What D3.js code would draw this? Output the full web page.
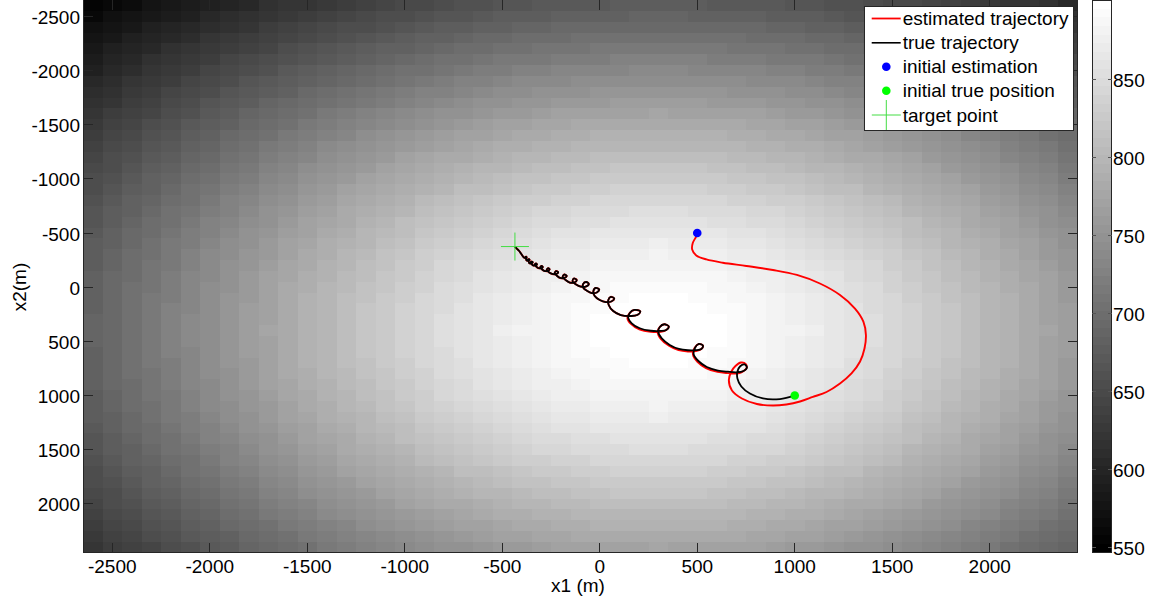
<!DOCTYPE html>
<html><head><meta charset="utf-8">
<script src="https://cdn.jsdelivr.net/npm/d3@7"></script>
<style>
html,body{margin:0;padding:0;background:#fff;}
svg{display:block;}
text{font-family:"Liberation Sans",Arial,Helvetica,sans-serif;fill:#000;}
</style></head><body>
<svg id="chart" width="1150" height="603"></svg>
<script>
// ---------------- data ----------------
const x1Centers = [-2600,-2500,-2400,-2300,-2200,-2100,-2000,-1900,-1800,-1700,-1600,-1500,-1400,-1300,-1200,-1100,-1000,-900,-800,-700,-600,-500,-400,-300,-200,-100,0,100,200,300,400,500,600,700,800,900,1000,1100,1200,1300,1400,1500,1600,1700,1800,1900,2000,2100,2200,2300,2400];
const x2Centers = [-2600,-2500,-2400,-2300,-2200,-2100,-2000,-1900,-1800,-1700,-1600,-1500,-1400,-1300,-1200,-1100,-1000,-900,-800,-700,-600,-500,-400,-300,-200,-100,0,100,200,300,400,500,600,700,800,900,1000,1100,1200,1300,1400,1500,1600,1700,1800,1900,2000,2100,2200,2300,2400];
// field values, one row per x2 centre (top = -2600)
const fieldValues = [
[554,561,568,575,582,588,595,601,607,613,619,624,629,634,639,643,648,651,655,658,662,664,667,669,671,672,673,674,675,675,675,674,673,672,671,669,667,664,662,658,655,651,648,643,639,634,629,624,619,613,607],
[561,569,576,583,590,596,603,609,615,621,627,633,638,643,648,653,657,661,665,668,671,674,677,679,681,682,684,684,685,685,685,684,684,682,681,679,677,674,671,668,665,661,657,653,648,643,638,633,627,621,615],
[569,576,583,591,598,604,611,618,624,630,636,641,647,652,657,662,666,670,674,678,681,684,686,689,691,692,694,694,695,695,695,694,694,692,691,689,686,684,681,678,674,670,666,662,657,652,647,641,636,630,624],
[576,583,591,598,605,612,619,626,632,638,644,650,656,661,666,671,675,680,684,687,691,694,696,699,701,702,704,705,705,705,705,705,704,702,701,699,696,694,691,687,684,680,675,671,666,661,656,650,644,638,632],
[583,591,598,606,613,620,627,633,640,646,653,658,664,670,675,680,684,689,693,697,700,703,706,708,710,712,714,714,715,715,715,714,714,712,710,708,706,703,700,697,693,689,684,680,675,670,664,658,653,646,640],
[590,598,605,613,620,627,634,641,648,654,661,667,673,678,684,689,693,698,702,706,710,713,716,718,720,722,723,724,725,725,725,724,723,722,720,718,716,713,710,706,702,698,693,689,684,678,673,667,661,654,648],
[596,604,612,620,627,635,642,649,656,662,669,675,681,687,692,697,702,707,711,715,719,722,725,728,730,732,733,734,735,735,735,734,733,732,730,728,725,722,719,715,711,707,702,697,692,687,681,675,669,662,656],
[603,611,619,627,634,642,649,656,663,670,677,683,689,695,701,706,711,716,720,724,728,732,735,737,740,741,743,744,745,745,745,744,743,741,740,737,735,732,728,724,720,716,711,706,701,695,689,683,677,670,663],
[609,618,626,634,641,649,656,664,671,678,684,691,697,703,709,714,720,725,729,733,737,741,744,747,749,751,752,754,754,754,754,754,752,751,749,747,744,741,737,733,729,725,720,714,709,703,697,691,684,678,671],
[615,624,632,640,648,656,663,671,678,685,692,699,705,711,717,723,728,733,738,742,746,750,753,756,758,760,762,763,764,764,764,763,762,760,758,756,753,750,746,742,738,733,728,723,717,711,705,699,692,685,678],
[621,630,638,646,654,662,670,678,685,692,699,706,713,719,725,731,736,742,746,751,755,759,762,765,768,770,771,773,773,774,773,773,771,770,768,765,762,759,755,751,746,742,736,731,725,719,713,706,699,692,685],
[627,636,644,653,661,669,677,684,692,699,707,714,720,727,733,739,745,750,755,760,764,768,771,774,777,779,781,782,783,783,783,782,781,779,777,774,771,768,764,760,755,750,745,739,733,727,720,714,707,699,692],
[633,641,650,658,667,675,683,691,699,706,714,721,728,734,741,747,752,758,763,768,772,776,780,783,786,788,790,791,792,792,792,791,790,788,786,783,780,776,772,768,763,758,752,747,741,734,728,721,714,706,699],
[638,647,656,664,673,681,689,697,705,713,720,728,735,741,748,754,760,766,771,776,781,785,789,792,795,797,799,800,801,801,801,800,799,797,795,792,789,785,781,776,771,766,760,754,748,741,735,728,720,713,705],
[643,652,661,670,678,687,695,703,711,719,727,734,741,748,755,762,768,774,779,784,789,793,797,801,804,806,808,809,810,810,810,809,808,806,804,801,797,793,789,784,779,774,768,762,755,748,741,734,727,719,711],
[648,657,666,675,684,692,701,709,717,725,733,741,748,755,762,769,775,781,787,792,797,801,805,809,812,815,817,818,819,819,819,818,817,815,812,809,805,801,797,792,787,781,775,769,762,755,748,741,733,725,717],
[653,662,671,680,689,697,706,714,723,731,739,747,754,762,769,775,782,788,794,800,805,809,813,817,820,823,825,826,827,828,827,826,825,823,820,817,813,809,805,800,794,788,782,775,769,762,754,747,739,731,723],
[657,666,675,684,693,702,711,720,728,736,745,752,760,768,775,782,789,795,801,807,812,817,821,825,828,831,833,835,836,836,836,835,833,831,828,825,821,817,812,807,801,795,789,782,775,768,760,752,745,736,728],
[661,670,680,689,698,707,716,725,733,742,750,758,766,774,781,788,795,802,808,814,819,824,829,833,836,839,841,843,844,844,844,843,841,839,836,833,829,824,819,814,808,802,795,788,781,774,766,758,750,742,733],
[665,674,684,693,702,711,720,729,738,746,755,763,771,779,787,794,801,808,814,820,826,831,836,840,843,846,849,850,851,852,851,850,849,846,843,840,836,831,826,820,814,808,801,794,787,779,771,763,755,746,738],
[668,678,687,697,706,715,724,733,742,751,760,768,776,784,792,800,807,814,820,826,832,838,843,847,850,854,856,858,859,859,859,858,856,854,850,847,843,838,832,826,820,814,807,800,792,784,776,768,760,751,742],
[671,681,691,700,710,719,728,737,746,755,764,772,781,789,797,805,812,819,826,832,838,844,849,853,857,860,863,865,866,866,866,865,863,860,857,853,849,844,838,832,826,819,812,805,797,789,781,772,764,755,746],
[674,684,694,703,713,722,732,741,750,759,768,776,785,793,801,809,817,824,831,838,844,849,855,859,863,867,869,871,872,873,872,871,869,867,863,859,855,849,844,838,831,824,817,809,801,793,785,776,768,759,750],
[677,686,696,706,716,725,735,744,753,762,771,780,789,797,805,813,821,829,836,843,849,855,860,865,869,872,875,877,878,879,878,877,875,872,869,865,860,855,849,843,836,829,821,813,805,797,789,780,771,762,753],
[679,689,699,708,718,728,737,747,756,765,774,783,792,801,809,817,825,833,840,847,853,859,865,870,874,878,880,883,884,884,884,883,880,878,874,870,865,859,853,847,840,833,825,817,809,801,792,783,774,765,756],
[681,691,701,710,720,730,740,749,758,768,777,786,795,804,812,820,828,836,843,850,857,863,869,874,878,882,885,887,889,889,889,887,885,882,878,874,869,863,857,850,843,836,828,820,812,804,795,786,777,768,758],
[682,692,702,712,722,732,741,751,760,770,779,788,797,806,815,823,831,839,846,854,860,867,872,878,882,886,889,891,893,893,893,891,889,886,882,878,872,867,860,854,846,839,831,823,815,806,797,788,779,770,760],
[684,694,704,714,723,733,743,752,762,771,781,790,799,808,817,825,833,841,849,856,863,869,875,880,885,889,892,895,896,896,896,895,892,889,885,880,875,869,863,856,849,841,833,825,817,808,799,790,781,771,762],
[684,694,705,714,724,734,744,754,763,773,782,791,800,809,818,826,835,843,850,858,865,871,877,883,887,891,895,897,898,899,898,897,895,891,887,883,877,871,865,858,850,843,835,826,818,809,800,791,782,773,763],
[685,695,705,715,725,735,745,754,764,773,783,792,801,810,819,827,836,844,851,859,866,872,878,884,889,893,896,898,900,900,900,898,896,893,889,884,878,872,866,859,851,844,836,827,819,810,801,792,783,773,764],
[685,695,705,715,725,735,745,754,764,774,783,792,801,810,819,828,836,844,852,859,866,873,879,884,889,893,896,899,900,901,900,899,896,893,889,884,879,873,866,859,852,844,836,828,819,810,801,792,783,774,764],
[685,695,705,715,725,735,745,754,764,773,783,792,801,810,819,827,836,844,851,859,866,872,878,884,889,893,896,898,900,900,900,898,896,893,889,884,878,872,866,859,851,844,836,827,819,810,801,792,783,773,764],
[684,694,705,714,724,734,744,754,763,773,782,791,800,809,818,826,835,843,850,858,865,871,877,883,887,891,895,897,898,899,898,897,895,891,887,883,877,871,865,858,850,843,835,826,818,809,800,791,782,773,763],
[684,694,704,714,723,733,743,752,762,771,781,790,799,808,817,825,833,841,849,856,863,869,875,880,885,889,892,895,896,896,896,895,892,889,885,880,875,869,863,856,849,841,833,825,817,808,799,790,781,771,762],
[682,692,702,712,722,732,741,751,760,770,779,788,797,806,815,823,831,839,846,854,860,867,872,878,882,886,889,891,893,893,893,891,889,886,882,878,872,867,860,854,846,839,831,823,815,806,797,788,779,770,760],
[681,691,701,710,720,730,740,749,758,768,777,786,795,804,812,820,828,836,843,850,857,863,869,874,878,882,885,887,889,889,889,887,885,882,878,874,869,863,857,850,843,836,828,820,812,804,795,786,777,768,758],
[679,689,699,708,718,728,737,747,756,765,774,783,792,801,809,817,825,833,840,847,853,859,865,870,874,878,880,883,884,884,884,883,880,878,874,870,865,859,853,847,840,833,825,817,809,801,792,783,774,765,756],
[677,686,696,706,716,725,735,744,753,762,771,780,789,797,805,813,821,829,836,843,849,855,860,865,869,872,875,877,878,879,878,877,875,872,869,865,860,855,849,843,836,829,821,813,805,797,789,780,771,762,753],
[674,684,694,703,713,722,732,741,750,759,768,776,785,793,801,809,817,824,831,838,844,849,855,859,863,867,869,871,872,873,872,871,869,867,863,859,855,849,844,838,831,824,817,809,801,793,785,776,768,759,750],
[671,681,691,700,710,719,728,737,746,755,764,772,781,789,797,805,812,819,826,832,838,844,849,853,857,860,863,865,866,866,866,865,863,860,857,853,849,844,838,832,826,819,812,805,797,789,781,772,764,755,746],
[668,678,687,697,706,715,724,733,742,751,760,768,776,784,792,800,807,814,820,826,832,838,843,847,850,854,856,858,859,859,859,858,856,854,850,847,843,838,832,826,820,814,807,800,792,784,776,768,760,751,742],
[665,674,684,693,702,711,720,729,738,746,755,763,771,779,787,794,801,808,814,820,826,831,836,840,843,846,849,850,851,852,851,850,849,846,843,840,836,831,826,820,814,808,801,794,787,779,771,763,755,746,738],
[661,670,680,689,698,707,716,725,733,742,750,758,766,774,781,788,795,802,808,814,819,824,829,833,836,839,841,843,844,844,844,843,841,839,836,833,829,824,819,814,808,802,795,788,781,774,766,758,750,742,733],
[657,666,675,684,693,702,711,720,728,736,745,752,760,768,775,782,789,795,801,807,812,817,821,825,828,831,833,835,836,836,836,835,833,831,828,825,821,817,812,807,801,795,789,782,775,768,760,752,745,736,728],
[653,662,671,680,689,697,706,714,723,731,739,747,754,762,769,775,782,788,794,800,805,809,813,817,820,823,825,826,827,828,827,826,825,823,820,817,813,809,805,800,794,788,782,775,769,762,754,747,739,731,723],
[648,657,666,675,684,692,701,709,717,725,733,741,748,755,762,769,775,781,787,792,797,801,805,809,812,815,817,818,819,819,819,818,817,815,812,809,805,801,797,792,787,781,775,769,762,755,748,741,733,725,717],
[643,652,661,670,678,687,695,703,711,719,727,734,741,748,755,762,768,774,779,784,789,793,797,801,804,806,808,809,810,810,810,809,808,806,804,801,797,793,789,784,779,774,768,762,755,748,741,734,727,719,711],
[638,647,656,664,673,681,689,697,705,713,720,728,735,741,748,754,760,766,771,776,781,785,789,792,795,797,799,800,801,801,801,800,799,797,795,792,789,785,781,776,771,766,760,754,748,741,735,728,720,713,705],
[633,641,650,658,667,675,683,691,699,706,714,721,728,734,741,747,752,758,763,768,772,776,780,783,786,788,790,791,792,792,792,791,790,788,786,783,780,776,772,768,763,758,752,747,741,734,728,721,714,706,699],
[627,636,644,653,661,669,677,684,692,699,707,714,720,727,733,739,745,750,755,760,764,768,771,774,777,779,781,782,783,783,783,782,781,779,777,774,771,768,764,760,755,750,745,739,733,727,720,714,707,699,692],
[621,630,638,646,654,662,670,678,685,692,699,706,713,719,725,731,736,742,746,751,755,759,762,765,768,770,771,773,773,774,773,773,771,770,768,765,762,759,755,751,746,742,736,731,725,719,713,706,699,692,685]
];
const colorRange = [546.6, 900.6];
const colorTicks = [550, 600, 650, 700, 750, 800, 850];
const xTicks = [-2500, -2000, -1500, -1000, -500, 0, 500, 1000, 1500, 2000];
const yTicks = [-2500, -2000, -1500, -1000, -500, 0, 500, 1000, 1500, 2000];
const xLabel = "x1 (m)";
const yLabel = "x2(m)";
// true trajectory (x1, x2) in metres
const trueTrajectory = [[1000,1000],[924,1032],[837,1027],[770,981],[726,916],[706,843],[706,778],[719,732],[742,713],[755,741],[737,773],[703,785],[657,780],[606,769],[549,736],[506,681],[482,621],[488,561],[508,524],[529,538],[521,570],[493,581],[452,582],[406,570],[359,533],[318,473],[300,413],[308,367],[331,342],[354,363],[341,395],[313,404],[262,402],[205,379],[164,333],[146,284],[154,238],[177,210],[208,224],[192,257],[159,266],[108,257],[69,220],[46,164],[44,118],[56,89],[74,104],[59,132],[31,137],[0,118],[-26,81],[-33,40],[-21,7],[-3,21],[-15,49],[-41,54],[-64,35],[-85,3],[-85,-30],[-69,-48],[-56,-30],[-72,-6],[-98,-6],[-121,-25],[-139,-53],[-133,-80],[-118,-66],[-131,-43],[-154,-43],[-175,-66],[-190,-94],[-182,-117],[-169,-103],[-182,-85],[-203,-85],[-218,-103],[-231,-131],[-223,-149],[-213,-136],[-226,-120],[-244,-122],[-259,-136],[-272,-159],[-264,-175],[-257,-163],[-269,-149],[-285,-151],[-295,-163],[-305,-184],[-298,-197],[-292,-186],[-303,-175],[-316,-177],[-326,-191],[-334,-208],[-327,-219],[-322,-209],[-331,-200],[-344,-203],[-349,-214],[-354,-230],[-348,-236],[-344,-227],[-352,-219],[-362,-223],[-364,-237],[-370,-253],[-363,-259],[-360,-250],[-367,-244],[-376,-248],[-378,-262],[-382,-276],[-377,-281],[-375,-273],[-381,-268],[-389,-273],[-403,-308],[-413,-334],[-426,-357],[-435,-375]];
// estimated trajectory: swings out from the initial estimate, then runs just outside the true path
const estimatedHead = [[500,-500],[493,-463],[477,-408],[474,-348],[495,-293],[547,-256],[631,-226],[752,-196],[888,-159],[1011,-113],[1129,-34],[1232,72],[1309,197],[1352,318],[1365,441],[1358,564],[1335,686],[1291,796],[1232,889],[1163,967],[1093,1013],[1027,1055],[957,1082],[888,1092],[806,1078],[729,1027],[678,953],[662,856],[675,778],[696,727],[724,695],[749,709],[752,750],[729,783]];
const estimatedTail = [[703,797],[657,793],[604,782],[545,746],[501,688],[478,622],[486,561],[508,524],[529,538],[521,570],[493,590],[452,593],[404,581],[355,541],[313,478],[297,414],[308,367],[331,342],[354,363],[341,395],[313,412],[262,412],[203,389],[160,339],[142,285],[154,238],[177,210],[208,224],[192,257],[159,266],[108,257],[69,220],[46,164],[44,118],[56,89],[74,104],[59,132],[31,137],[0,118],[-26,81],[-33,40],[-21,7],[-3,21],[-15,49],[-41,54],[-64,35],[-85,3],[-85,-30],[-69,-48],[-56,-30],[-72,-6],[-98,-6],[-121,-25],[-139,-53],[-133,-80],[-118,-66],[-131,-43],[-154,-43],[-175,-66],[-190,-94],[-182,-117],[-169,-103],[-182,-85],[-203,-85],[-218,-103],[-231,-131],[-223,-149],[-213,-136],[-226,-120],[-244,-122],[-259,-136],[-272,-159],[-264,-175],[-257,-163],[-269,-149],[-285,-151],[-295,-163],[-305,-184],[-298,-197],[-292,-186],[-303,-175],[-316,-177],[-326,-191],[-334,-208],[-327,-219],[-322,-209],[-331,-200],[-344,-203],[-349,-214],[-354,-230],[-348,-236],[-344,-227],[-352,-219],[-362,-223],[-364,-237],[-370,-253],[-363,-259],[-360,-250],[-367,-244],[-376,-248],[-378,-262],[-382,-276],[-377,-281],[-375,-273],[-381,-268],[-389,-273],[-403,-308],[-413,-334],[-426,-357],[-435,-375]];
const initialEstimation = [500, -500];
const initialTruePosition = [1000, 1000];
const targetPoint = [-435, -375];
const legendLabels = ["estimated trajectory", "true trajectory", "initial estimation", "initial true position", "target point"];

// ---------------- drawing ----------------
const svg = d3.select("#chart");
const FONT = 19;
const ink = "#262626";
const half = (x1Centers[1] - x1Centers[0]) / 2;
const plot = {left: 83, right: 1077.5, top: 0, bottom: 552.7};
const x = d3.scaleLinear().domain([x1Centers[0] - half, x1Centers[x1Centers.length - 1] + half]).range([plot.left, plot.right]);
const y = d3.scaleLinear().domain([x2Centers[0] - half, x2Centers[x2Centers.length - 1] + half]).range([plot.top, plot.bottom]);

const nLevels = 64;
const grays = d3.range(nLevels).map(i => { const g = Math.round(255 * i / (nLevels - 1)); return `rgb(${g},${g},${g})`; });
const color = d3.scaleQuantize().domain(colorRange).range(grays);

svg.append("defs").append("clipPath").attr("id", "plotclip")
  .append("rect").attr("x", plot.left).attr("y", plot.top)
  .attr("width", plot.right - plot.left).attr("height", plot.bottom - plot.top);

const cells = [];
fieldValues.forEach((row, r) => row.forEach((v, c) => cells.push({x1: x1Centers[c], x2: x2Centers[r], v})));
svg.append("g").attr("shape-rendering", "crispEdges")
  .selectAll("rect").data(cells).join("rect")
  .attr("x", d => x(d.x1 - half)).attr("y", d => y(d.x2 - half))
  .attr("width", d => x(d.x1 + half) - x(d.x1 - half))
  .attr("height", d => y(d.x2 + half) - y(d.x2 - half))
  .attr("fill", d => color(d.v));

const gData = svg.append("g").attr("clip-path", "url(#plotclip)");
const line = d3.line().x(d => x(d[0])).y(d => y(d[1])).curve(d3.curveCatmullRom.alpha(0.5));
const estimatedTrajectory = estimatedHead.concat(estimatedTail);
gData.append("path").attr("d", line(estimatedTrajectory)).attr("fill", "none")
  .attr("stroke", "#ff0000").attr("stroke-width", 1.9).attr("stroke-linejoin", "round");
gData.append("path").attr("d", line(trueTrajectory)).attr("fill", "none")
  .attr("stroke", "#000000").attr("stroke-width", 1.8).attr("stroke-linejoin", "round");
gData.append("circle").attr("cx", x(initialEstimation[0])).attr("cy", y(initialEstimation[1])).attr("r", 4.3).attr("fill", "#0000ff");
gData.append("circle").attr("cx", x(initialTruePosition[0])).attr("cy", y(initialTruePosition[1])).attr("r", 4.3).attr("fill", "#00ff00");
const crossHalf = 14;
const tx = x(targetPoint[0]), ty = y(targetPoint[1]);
gData.append("line").attr("x1", tx - crossHalf).attr("x2", tx + crossHalf).attr("y1", ty).attr("y2", ty).attr("stroke", "#44dd44").attr("stroke-width", 1);
gData.append("line").attr("x1", tx).attr("x2", tx).attr("y1", ty - crossHalf).attr("y2", ty + crossHalf).attr("stroke", "#44dd44").attr("stroke-width", 1);

// axes
const gAx = svg.append("g");
const gLines = gAx.append("g").attr("stroke", ink).attr("stroke-width", 1).attr("shape-rendering", "crispEdges");
gLines.append("line").attr("x1", plot.left).attr("x2", plot.left).attr("y1", plot.top).attr("y2", plot.bottom);
gLines.append("line").attr("x1", plot.right).attr("x2", plot.right).attr("y1", plot.top).attr("y2", plot.bottom);
gLines.append("line").attr("x1", plot.left).attr("x2", plot.right).attr("y1", plot.bottom).attr("y2", plot.bottom);
const tickLen = 10;
xTicks.forEach(t => {
  gLines.append("line").attr("x1", x(t)).attr("x2", x(t)).attr("y1", plot.bottom).attr("y2", plot.bottom - tickLen);
  gLines.append("line").attr("x1", x(t)).attr("x2", x(t)).attr("y1", plot.top).attr("y2", plot.top + tickLen);
  gAx.append("text").attr("x", x(t)).attr("y", 573).attr("text-anchor", "middle").attr("font-size", FONT).text(t);
});
yTicks.forEach(t => {
  gLines.append("line").attr("x1", plot.left).attr("x2", plot.left + tickLen).attr("y1", y(t)).attr("y2", y(t));
  gLines.append("line").attr("x1", plot.right).attr("x2", plot.right - tickLen).attr("y1", y(t)).attr("y2", y(t));
  gAx.append("text").attr("x", 80).attr("y", y(t) + 7.5).attr("text-anchor", "end").attr("font-size", FONT).text(t);
});
gAx.append("text").attr("x", 578).attr("y", 592).attr("text-anchor", "middle").attr("font-size", FONT).text(xLabel);
gAx.append("text").attr("transform", "translate(26,287) rotate(-90)").attr("text-anchor", "middle").attr("font-size", FONT).text(yLabel);

// legend
const lg = svg.append("g");
const box = {left: 864.7, right: 1073.3, top: 6, bottom: 130};
lg.append("rect").attr("x", box.left).attr("y", box.top).attr("width", box.right - box.left).attr("height", box.bottom - box.top)
  .attr("fill", "#ffffff").attr("stroke", ink).attr("stroke-width", 1).attr("shape-rendering", "crispEdges");
const rowBase = [25, 49.3, 73.3, 97.3, 121.5];
const sampleX0 = 871.7, sampleX1 = 900.7, sampleXc = 886.3, textX = 902.7;
legendLabels.forEach((lab, i) => {
  lg.append("text").attr("x", textX).attr("y", rowBase[i]).attr("font-size", FONT).text(lab);
});
const sy = rowBase.map(b => b - 6.5);
lg.append("line").attr("x1", sampleX0).attr("x2", sampleX1).attr("y1", sy[0]).attr("y2", sy[0]).attr("stroke", "#ff0000").attr("stroke-width", 1.8);
lg.append("line").attr("x1", sampleX0).attr("x2", sampleX1).attr("y1", sy[1]).attr("y2", sy[1]).attr("stroke", "#000").attr("stroke-width", 1.6);
lg.append("circle").attr("cx", sampleXc).attr("cy", sy[2]).attr("r", 4.3).attr("fill", "#0000ff");
lg.append("circle").attr("cx", sampleXc).attr("cy", sy[3]).attr("r", 4.3).attr("fill", "#00ff00");
lg.append("line").attr("x1", sampleXc - crossHalf - 0.5).attr("x2", sampleXc + crossHalf + 0.5).attr("y1", sy[4]).attr("y2", sy[4]).attr("stroke", "#44dd44").attr("stroke-width", 1);
lg.append("line").attr("x1", sampleXc).attr("x2", sampleXc).attr("y1", sy[4] - crossHalf - 1).attr("y2", sy[4] + crossHalf + 1).attr("stroke", "#44dd44").attr("stroke-width", 1);

// colorbar
const cb = {left: 1092.3, right: 1111.7, top: 0, bottom: 552.7};
const cy = d3.scaleLinear().domain(colorRange).range([cb.bottom, cb.top]);
const step = (colorRange[1] - colorRange[0]) / nLevels;
const gcb = svg.append("g");
gcb.append("g").attr("shape-rendering", "crispEdges").selectAll("rect").data(d3.range(nLevels)).join("rect")
  .attr("x", cb.left).attr("width", cb.right - cb.left)
  .attr("y", i => cy(colorRange[0] + step * (i + 1)))
  .attr("height", i => cy(colorRange[0] + step * i) - cy(colorRange[0] + step * (i + 1)))
  .attr("fill", i => grays[i]);
gcb.append("rect").attr("x", cb.left).attr("y", cb.top).attr("width", cb.right - cb.left).attr("height", cb.bottom - cb.top)
  .attr("fill", "none").attr("stroke", ink).attr("stroke-width", 1).attr("shape-rendering", "crispEdges");
colorTicks.forEach(t => {
  gcb.append("line").attr("x1", cb.left).attr("x2", cb.left + 4).attr("y1", cy(t)).attr("y2", cy(t)).attr("stroke", "#555").attr("stroke-width", 1).attr("shape-rendering", "crispEdges");
  gcb.append("line").attr("x1", cb.right - 4).attr("x2", cb.right).attr("y1", cy(t)).attr("y2", cy(t)).attr("stroke", "#555").attr("stroke-width", 1).attr("shape-rendering", "crispEdges");
  gcb.append("text").attr("x", 1113).attr("y", cy(t) + 7.5).attr("font-size", FONT).text(t);
});
</script>
</body></html>
